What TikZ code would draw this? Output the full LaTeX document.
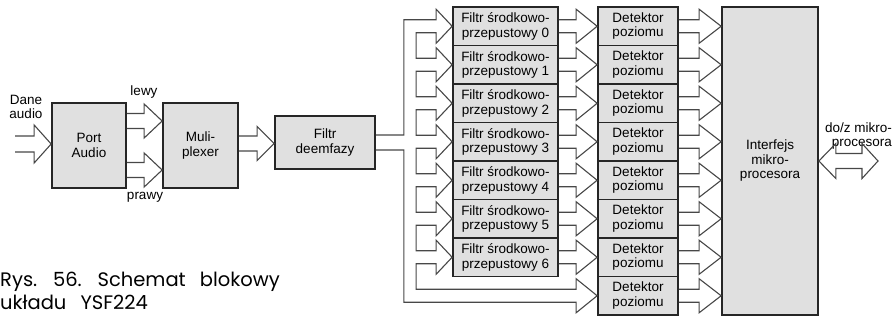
\documentclass[tikz,border=0pt]{standalone}
\usepackage{fontspec}
\setmainfont{Liberation Sans}
\newfontfamily\capfont[WordSpace=2.7]{Poppins}
\usetikzlibrary{calc}
\tikzset{
  blk/.style={draw=black!85, line width=1.7pt, fill=black!12, align=center,
    font=\fontsize{13.5}{14.5}\selectfont, inner sep=0pt},
  arr/.style={draw=black!72, line width=1.1pt, line join=miter},
  lbl/.style={font=\fontsize{13.5}{14}\selectfont, align=center, inner sep=0pt},
}
% hollow arrow: #1 start, #2 tip, #3 head length, #4 shaft half width, #5 head half width
\newcommand\fatarr[5]{%
  \draw[arr] let \p1=#1, \p2=#2 in
    (\x1,\y1+#4pt) -- (\x2-#3pt,\y1+#4pt) -- (\x2-#3pt,\y1+#5pt) -- (\x2,\y1)
    -- (\x2-#3pt,\y1-#5pt) -- (\x2-#3pt,\y1-#4pt) -- (\x1,\y1-#4pt);}
\begin{document}
\begin{tikzpicture}[x=1pt,y=-1pt]
\useasboundingbox (0,0) rectangle (893,321);

% blocks
\node[blk, minimum width=74, minimum height=85] (port) at (89,145.5) {Port\\Audio};
\node[blk, minimum width=75, minimum height=85] (mux) at (200.5,145.5) {Muli-\\plexer};
\node[blk, minimum width=100, minimum height=53] (deem) at (325,142.5) {Filtr\\deemfazy};
\foreach \i in {0,...,6}{
  \node[blk, minimum width=105, minimum height=38.5] (f\i) at (505.5,{26.25+38.5*\i})
    {Filtr środkowo-\\przepustowy \i};}
\foreach \i in {0,...,7}{
  \node[blk, minimum width=80, minimum height=38.5] (d\i) at (638,{26.25+38.5*\i})
    {Detektor\\poziomu};}
\node[blk, minimum width=96, minimum height=308] (intf) at (770,161)
  {Interfejs\\mikro-\\procesora};

% labels
\node[lbl] (dane) at (26,107) {Dane\\audio};
\node[lbl] (lewy) at (144,92) {lewy};
\node[lbl] (prawy) at (145,197) {prawy};
\node[lbl, align=right, anchor=east] (ext) at (892,136.5) {do/z mikro-\\procesora};
\node[font=\capfont\fontsize{19.5}{23}\selectfont, align=left, anchor=west, inner sep=0pt]
  (cap) at (0,291) {Rys. 56. Schemat blokowy\\układu YSF224};

% coordinates for free ends
\coordinate (src) at (15,144);
\coordinate (bus) at (878,161);

% arrows
\fatarr{(src)}{(port.west)}{17}{8}{19}
\fatarr{($(port.east)+(0,-24.5)$)}{(mux.west)}{18}{7.5}{17}
\fatarr{($(port.east)+(0,24.5)$)}{(mux.west)}{18}{7.5}{17}
\fatarr{($(mux.east)+(0,-2)$)}{(deem.west)}{17}{7.5}{17}
\foreach \i in {0,...,6}{
  \fatarr{(f\i.east)}{(d\i.west)}{21}{6.5}{17}}
\foreach \i in {0,...,7}{
  \fatarr{(d\i.east)}{(intf.west)}{22}{6.5}{17}}

% fan-out from deemphasis filter
\draw[arr] ($(deem.east)+(0,-7.5)$) -- ($(deem.east)+(28,-7.5)$) |- ($(f0.west)+(-16,-6.5)$)
  \foreach \i/\j in {0/1,1/2,2/3,3/4,4/5,5/6} {
    -- ($(f\i.west)+(-16,-17)$) -- (f\i.west) -- ($(f\i.west)+(-16,17)$)
    -- ($(f\i.west)+(-16,6.5)$) -- ($(f\i.west)+(-36,6.5)$) |- ($(f\j.west)+(-16,-6.5)$) }
  -- ($(f6.west)+(-16,-17)$) -- (f6.west) -- ($(f6.west)+(-16,17)$)
  -- ($(f6.west)+(-16,6.5)$) -- ($(f6.west)+(-36,6.5)$) |- ($(d7.west)+(-21,-6.5)$)
  -- ($(d7.west)+(-21,-17)$) -- (d7.west) -- ($(d7.west)+(-21,17)$)
  -- ($(d7.west)+(-21,6.5)$) -| ($(deem.east)+(28,7.5)$) -- ($(deem.east)+(0,7.5)$);

% bidirectional arrow
\draw[arr] let \p1=(intf.east), \p2=(bus) in
  (\x1,\y1) -- (\x1+17pt,\y1+17.5pt) -- (\x1+17pt,\y1+7.5pt) -- (\x2-16pt,\y1+7.5pt)
  -- (\x2-16pt,\y1+17.5pt) -- (\x2,\y1) -- (\x2-16pt,\y1-17.5pt) -- (\x2-16pt,\y1-7.5pt)
  -- (\x1+17pt,\y1-7.5pt) -- (\x1+17pt,\y1-17.5pt) -- cycle;
\end{tikzpicture}
\end{document}
